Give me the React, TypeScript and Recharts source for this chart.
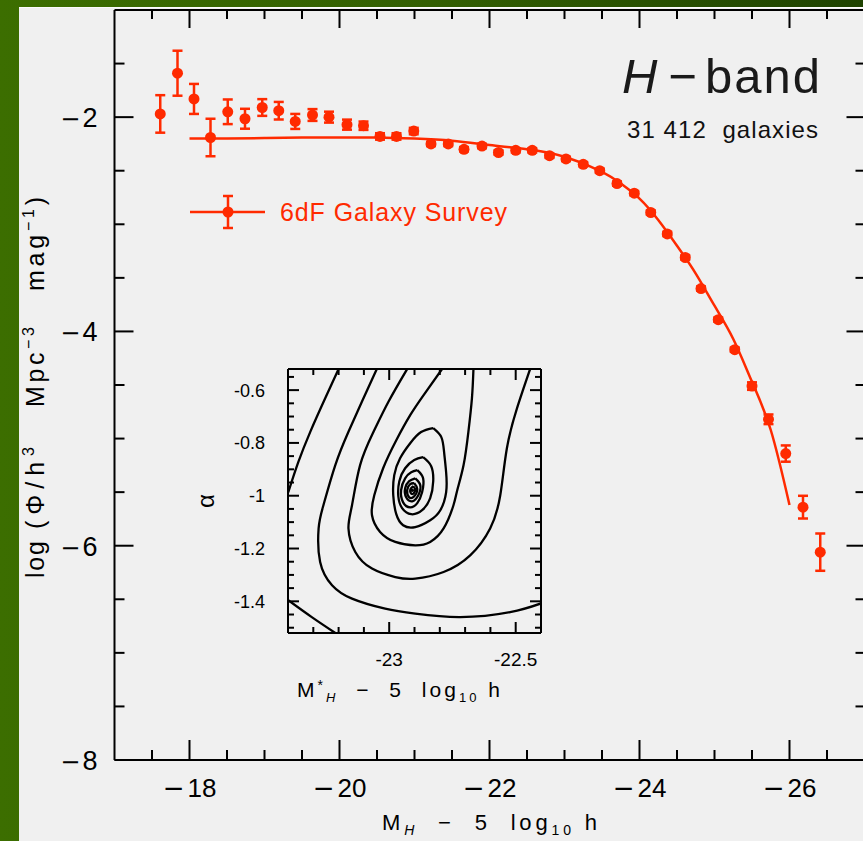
import React from 'react';
import { ComposedChart, Line, Scatter, XAxis, YAxis, ErrorBar } from 'recharts';

const RED = '#ff2a00';
const FONT = '"Liberation Sans", Arial, Helvetica, sans-serif';

// ---- main luminosity function (6dF, H band) ----
const lfMag = [-17.61, -17.84, -18.06, -18.28, -18.51, -18.74, -18.97, -19.19, -19.41, -19.64, -19.86, -20.1, -20.32, -20.54, -20.76, -20.99, -21.22, -21.45, -21.66, -21.9, -22.12, -22.35, -22.57, -22.8, -23.02, -23.25, -23.47, -23.7, -23.93, -24.15, -24.37, -24.61, -24.82, -25.05, -25.27, -25.5, -25.72, -25.95, -26.18, -26.41];
const lfLogPhi = [-1.97, -1.59, -1.83, -2.19, -1.95, -2.015, -1.91, -1.94, -2.04, -1.98, -2.0, -2.07, -2.08, -2.18, -2.18, -2.13, -2.25, -2.25, -2.3, -2.27, -2.33, -2.31, -2.31, -2.36, -2.39, -2.44, -2.5, -2.62, -2.71, -2.89, -3.09, -3.31, -3.6, -3.89, -4.17, -4.51, -4.82, -5.14, -5.64, -6.06];
const lfErr = [0.175, 0.21, 0.14, 0.175, 0.115, 0.093, 0.078, 0.082, 0.07, 0.055, 0.051, 0.047, 0.039, 0.03, 0.03, 0.03, 0.02, 0.02, 0.02, 0.02, 0.02, 0.02, 0.02, 0.02, 0.02, 0.02, 0.02, 0.02, 0.02, 0.02, 0.02, 0.02, 0.02, 0.02, 0.02, 0.035, 0.045, 0.076, 0.106, 0.174];

// ---- Schechter fit ----
const fitMag = [-18.0, -18.5, -19.0, -19.5, -20.0, -20.5, -21.0, -21.5, -22.0, -22.5, -23.0, -23.5, -23.75, -24.0, -24.25, -24.5, -24.75, -25.0, -25.25, -25.5, -25.75, -26.0];
const fitLogPhi = [-2.2, -2.2, -2.195, -2.19, -2.19, -2.19, -2.2, -2.22, -2.26, -2.3, -2.37, -2.51, -2.62, -2.76, -2.96, -3.2, -3.46, -3.76, -4.07, -4.47, -4.92, -5.62];

// ---- main axes ticks ----
const xTicks = [-17.5, -18, -18.5, -19, -19.5, -20, -20.5, -21, -21.5, -22, -22.5, -23, -23.5, -24, -24.5, -25, -25.5, -26, -26.5];
const xMajor = [-18, -20, -22, -24, -26];
const xMajorLabels = ['−18', '−20', '−22', '−24', '−26'];
const yTicks = [-8, -7.5, -7, -6.5, -6, -5.5, -5, -4.5, -4, -3.5, -3, -2.5, -2, -1.5];
const yMajor = [-8, -6, -4, -2];
const yMajorLabels = ['−8', '−6', '−4', '−2'];

// ---- inset axes ticks ----
const insetXTicks = [-23.3, -23.2, -23.1, -23, -22.9, -22.8, -22.7, -22.6, -22.5];
const insetXMajor = [-23, -22.5];
const insetXLabels = ['-23', '-22.5'];
const insetYTicks = [-1.5, -1.45, -1.4, -1.35, -1.3, -1.25, -1.2, -1.15, -1.1, -1.05, -1, -0.95, -0.9, -0.85, -0.8, -0.75, -0.7, -0.65, -0.6, -0.55];
const insetYMajor = [-1.4, -1.2, -1, -0.8, -0.6];
const insetYLabels = ['-1.4', '-1.2', '-1', '-0.8', '-0.6'];

// ---- inset likelihood contours: [M*, alpha] ----
const contourL0 = [[-23.399, -1.396], [-23.306, -1.46], [-23.213, -1.52]];
const contourL1 = [[-23.2, -0.52], [-23.253, -0.631], [-23.312, -0.758], [-23.359, -0.872], [-23.399, -0.987]];
const contourL2 = [[-23.049, -0.52], [-23.108, -0.644], [-23.161, -0.758], [-23.213, -0.884], [-23.26, -1.036], [-23.279, -1.124], [-23.273, -1.251], [-23.226, -1.339], [-23.147, -1.39], [-23.016, -1.428], [-22.897, -1.447], [-22.719, -1.46], [-22.522, -1.441], [-22.4, -1.408]];
const contourL3 = [[-22.929, -0.52], [-23.003, -0.644], [-23.062, -0.758], [-23.115, -0.884], [-23.147, -1.036], [-23.161, -1.124], [-23.134, -1.213], [-23.068, -1.276], [-22.976, -1.308], [-22.897, -1.314], [-22.785, -1.289], [-22.68, -1.226], [-22.601, -1.124], [-22.561, -0.998], [-22.535, -0.821], [-22.495, -0.669], [-22.443, -0.52]];
const contourL4 = [[-22.791, -0.52], [-22.864, -0.619], [-22.917, -0.695], [-22.972, -0.79], [-23.024, -0.896], [-23.059, -0.998], [-23.068, -1.074], [-23.036, -1.137], [-22.976, -1.175], [-22.897, -1.188], [-22.838, -1.175], [-22.785, -1.124], [-22.746, -1.036], [-22.731, -0.979], [-22.706, -0.884], [-22.687, -0.758], [-22.673, -0.631], [-22.667, -0.52]];
const loop1 = [[-22.826, -0.744], [-22.794, -0.778], [-22.783, -0.835], [-22.775, -0.911], [-22.775, -0.987], [-22.798, -1.055], [-22.838, -1.093], [-22.897, -1.119], [-22.945, -1.112], [-22.972, -1.07], [-22.984, -0.998], [-22.98, -0.922], [-22.957, -0.858], [-22.917, -0.801], [-22.874, -0.759], [-22.826, -0.744]];
const loop2 = [[-22.866, -0.854], [-22.834, -0.888], [-22.826, -0.945], [-22.838, -1.009], [-22.87, -1.055], [-22.913, -1.07], [-22.949, -1.047], [-22.964, -1.002], [-22.96, -0.945], [-22.937, -0.896], [-22.901, -0.865], [-22.866, -0.854]];
const loop3 = [[-22.889, -0.903], [-22.866, -0.934], [-22.87, -0.987], [-22.889, -1.028], [-22.917, -1.044], [-22.945, -1.025], [-22.953, -0.979], [-22.937, -0.934], [-22.913, -0.911], [-22.889, -0.903]];
const loop4 = [[-22.897, -0.934], [-22.877, -0.96], [-22.885, -0.998], [-22.909, -1.021], [-22.933, -1.006], [-22.937, -0.972], [-22.921, -0.945], [-22.897, -0.934]];
const loop5 = [[-22.901, -0.953], [-22.889, -0.975], [-22.901, -1.002], [-22.921, -1.006], [-22.929, -0.979], [-22.917, -0.956], [-22.901, -0.953]];
const loop6 = [[-22.905, -0.964], [-22.897, -0.979], [-22.909, -0.994], [-22.917, -0.979], [-22.905, -0.964]];
const bestFit = [[-22.909, -0.979]];

const contours = [contourL0, contourL1, contourL2, contourL3, contourL4, loop1, loop2, loop3, loop4, loop5, loop6];

const lfData = lfMag.map((m, i) => ({ x: m, y: lfLogPhi[i], e: lfErr[i] }));
const fitData = fitMag.map((m, i) => ({ x: m, y: fitLogPhi[i] }));
const toPts = (c: number[][]) => c.map(([m, a]) => ({ m, a }));

const idx = (arr: number[], v: number) => arr.findIndex((a) => Math.abs(a - v) < 1e-6);

function SignedText({ x, y, label, anchor, size, minusSize, gap }: any) {
  const neg = label.startsWith('−');
  return (
    <text x={x} y={y} textAnchor={anchor} fontFamily={FONT} fontSize={size} fill="#000">
      {neg && <tspan fontFamily="DejaVu Sans" fontSize={minusSize}>−</tspan>}
      <tspan dx={neg ? gap : 0}>{neg ? label.slice(1) : label}</tspan>
    </text>
  );
}

// main axis ticks
const MainBottomTick = (p: any) => {
  const i = idx(xMajor, p.payload.value);
  const major = i >= 0;
  return (
    <g>
      <line x1={p.x} x2={p.x} y1={p.y} y2={p.y - (major ? 20 : 10)} stroke="#000" strokeWidth={2} />
      {major && <SignedText x={p.x} y={p.y + 37} label={xMajorLabels[i]} anchor="middle" size={26} minusSize={26} gap={3} />}
    </g>
  );
};
const MainTopTick = (p: any) => {
  const major = idx(xMajor, p.payload.value) >= 0;
  return <line x1={p.x} x2={p.x} y1={p.y} y2={p.y + (major ? 18 : 9)} stroke="#000" strokeWidth={2} />;
};
const MainLeftTick = (p: any) => {
  const i = idx(yMajor, p.payload.value);
  const major = i >= 0;
  return (
    <g>
      <line x1={p.x} x2={p.x + (major ? 19 : 10)} y1={p.y} y2={p.y} stroke="#000" strokeWidth={2} />
      {major && <SignedText x={p.x - 17} y={p.y + 10} label={yMajorLabels[i]} anchor="end" size={27} minusSize={24} gap={2} />}
    </g>
  );
};
const MainRightTick = (p: any) => {
  const major = idx(yMajor, p.payload.value) >= 0;
  return <line x1={p.x} x2={p.x - (major ? 18 : 9)} y1={p.y} y2={p.y} stroke="#000" strokeWidth={2} />;
};

// inset ticks
const InsetBottomTick = (p: any) => {
  const i = idx(insetXMajor, p.payload.value);
  const major = i >= 0;
  return (
    <g>
      <line x1={p.x} x2={p.x} y1={p.y} y2={p.y - (major ? 11 : 6)} stroke="#000" strokeWidth={2} />
      {major && (
        <text x={p.x} y={p.y + 33} textAnchor="middle" fontFamily={FONT} fontSize={19} fill="#000">
          {insetXLabels[i]}
        </text>
      )}
    </g>
  );
};
const InsetTopTick = (p: any) => {
  const major = idx(insetXMajor, p.payload.value) >= 0;
  return <line x1={p.x} x2={p.x} y1={p.y} y2={p.y + (major ? 11 : 6)} stroke="#000" strokeWidth={2} />;
};
const InsetLeftTick = (p: any) => {
  const i = idx(insetYMajor, p.payload.value);
  const major = i >= 0;
  return (
    <g>
      <line x1={p.x} x2={p.x + (major ? 11 : 6)} y1={p.y} y2={p.y} stroke="#000" strokeWidth={2} />
      {major && (
        <text x={p.x - 23} y={p.y + 6.5} textAnchor="end" fontFamily={FONT} fontSize={18} fill="#000">
          {insetYLabels[i]}
        </text>
      )}
    </g>
  );
};
const InsetRightTick = (p: any) => {
  const major = idx(insetYMajor, p.payload.value) >= 0;
  return <line x1={p.x} x2={p.x - (major ? 11 : 6)} y1={p.y} y2={p.y} stroke="#000" strokeWidth={2} />;
};

const axisLine = { stroke: '#000', strokeWidth: 2 };

const MarkerDot = (p: any) => <circle cx={p.cx} cy={p.cy} r={5.5} fill={RED} />;
const CenterDot = (p: any) => <circle cx={p.cx} cy={p.cy} r={1.8} fill="#000" />;

export default function App() {
  return (
    <div
      style={{
        position: 'absolute',
        left: 0,
        top: 0,
        width: 863,
        height: 841,
        overflow: 'hidden',
        background: 'linear-gradient(90deg, #3c6e00 0%, #335f02 50%, #1f4300 100%)',
      }}
    >
      <div
        style={{
          position: 'absolute',
          left: 19,
          top: 7,
          right: 0,
          bottom: 0,
          background: '#f0f0f0',
          borderTop: '1px solid #fbfbfb',
        }}
      />
      {/* main chart */}
      <div style={{ position: 'absolute', left: 0, top: 0 }}>
        <ComposedChart width={880} height={841} margin={{ top: 9, right: 14.5, bottom: 20, left: 54.5 }}>
          <XAxis
            xAxisId="b"
            dataKey="x"
            type="number"
            orientation="bottom"
            domain={[-27, -17]}
            reversed
            allowDataOverflow
            ticks={xTicks}
            interval={0}
            height={61}
            tickLine={false}
            tickSize={0}
            tickMargin={0}
            axisLine={axisLine}
            tick={MainBottomTick}
          />
          <XAxis
            xAxisId="t"
            dataKey="x"
            type="number"
            orientation="top"
            domain={[-27, -17]}
            reversed
            allowDataOverflow
            ticks={xTicks}
            interval={0}
            height={1}
            tickLine={false}
            tickSize={0}
            tickMargin={0}
            axisLine={axisLine}
            tick={MainTopTick}
          />
          <YAxis
            yAxisId="l"
            dataKey="y"
            type="number"
            orientation="left"
            domain={[-8, -1]}
            allowDataOverflow
            ticks={yTicks}
            interval={0}
            width={60}
            tickLine={false}
            tickSize={0}
            tickMargin={0}
            axisLine={axisLine}
            tick={MainLeftTick}
          />
          <YAxis
            yAxisId="r"
            type="number"
            orientation="right"
            domain={[-8, -1]}
            allowDataOverflow
            ticks={yTicks}
            interval={0}
            width={1}
            tickLine={false}
            tickSize={0}
            tickMargin={0}
            axisLine={axisLine}
            tick={MainRightTick}
          />
          <Line
            xAxisId="b"
            yAxisId="l"
            data={fitData}
            dataKey="y"
            type="natural"
            stroke={RED}
            strokeWidth={2.5}
            dot={false}
            isAnimationActive={false}
          />
          <Scatter xAxisId="b" yAxisId="l" data={lfData} dataKey="y" fill={RED} shape={MarkerDot} isAnimationActive={false}>
            <ErrorBar dataKey="e" direction="y" width={5} stroke={RED} strokeWidth={2.5} isAnimationActive={false} />
          </Scatter>
        </ComposedChart>
      </div>

      {/* inset chart */}
      <div style={{ position: 'absolute', left: 190, top: 355 }}>
        <ComposedChart width={360} height={360} margin={{ top: 13, right: 8, bottom: 21, left: 38 }}>
          <XAxis
            xAxisId="b"
            dataKey="m"
            type="number"
            orientation="bottom"
            domain={[-23.4, -22.4]}
            allowDataOverflow
            ticks={insetXTicks}
            interval={0}
            height={61}
            tickLine={false}
            tickSize={0}
            tickMargin={0}
            axisLine={axisLine}
            tick={InsetBottomTick}
          />
          <XAxis
            xAxisId="t"
            dataKey="m"
            type="number"
            orientation="top"
            domain={[-23.4, -22.4]}
            allowDataOverflow
            ticks={insetXTicks}
            interval={0}
            height={1}
            tickLine={false}
            tickSize={0}
            tickMargin={0}
            axisLine={axisLine}
            tick={InsetTopTick}
          />
          <YAxis
            yAxisId="l"
            dataKey="a"
            type="number"
            orientation="left"
            domain={[-1.52, -0.52]}
            allowDataOverflow
            ticks={insetYTicks}
            interval={0}
            width={60}
            tickLine={false}
            tickSize={0}
            tickMargin={0}
            axisLine={axisLine}
            tick={InsetLeftTick}
          />
          <YAxis
            yAxisId="r"
            type="number"
            orientation="right"
            domain={[-1.52, -0.52]}
            allowDataOverflow
            ticks={insetYTicks}
            interval={0}
            width={1}
            tickLine={false}
            tickSize={0}
            tickMargin={0}
            axisLine={axisLine}
            tick={InsetRightTick}
          />
          {contours.map((c, i) => (
            <Line
              key={i}
              xAxisId="b"
              yAxisId="l"
              data={toPts(c)}
              dataKey="a"
              type="natural"
              stroke="#000"
              strokeWidth={2.3}
              dot={false}
              isAnimationActive={false}
            />
          ))}
          <Scatter xAxisId="b" yAxisId="l" data={toPts(bestFit)} dataKey="a" shape={CenterDot} isAnimationActive={false} />
        </ComposedChart>
      </div>

      {/* text overlay */}
      <svg width={863} height={841} style={{ position: 'absolute', left: 0, top: 0, pointerEvents: 'none' }}>
        {/* title */}
        <text x={622} y={93} fontFamily={FONT} fontSize={49} fill="#1a1a1a">
          <tspan fontStyle="italic">H</tspan>
          <tspan dx={11}>−</tspan>
          <tspan dx={8} style={{ letterSpacing: 2 }}>band</tspan>
        </text>
        <text x={627} y={138} fontFamily={FONT} fontSize={24} fill="#111" textLength={191} lengthAdjust="spacing" style={{ whiteSpace: 'pre' }}>
          31 412  galaxies
        </text>

        {/* legend */}
        <line x1={190} x2={265} y1={212} y2={212} stroke={RED} strokeWidth={2.5} />
        <line x1={228} x2={228} y1={196} y2={228} stroke={RED} strokeWidth={2.5} />
        <line x1={223} x2={233} y1={196} y2={196} stroke={RED} strokeWidth={2.5} />
        <line x1={223} x2={233} y1={228} y2={228} stroke={RED} strokeWidth={2.5} />
        <circle cx={228} cy={212} r={5.5} fill={RED} />
        <text x={280} y={221} fontFamily={FONT} fontSize={25} fill={RED} textLength={227} lengthAdjust="spacing">
          6dF Galaxy Survey
        </text>

        {/* main y label (rotated) */}
        <g transform="rotate(-90)" fontFamily={FONT} fontSize={25} fill="#000">
          <text x={-578} y={44} textLength={37} lengthAdjust="spacing">log</text>
          <text x={-529} y={44} textLength={82} lengthAdjust="spacing">
            (Φ/h<tspan dy={-10} fontSize={16}>3</tspan>
          </text>
          <text x={-407} y={44} textLength={80} lengthAdjust="spacing">
            Mpc<tspan dy={-10} fontSize={16}>−3</tspan>
          </text>
          <text x={-291} y={44} textLength={94} lengthAdjust="spacing">
            mag<tspan dy={-10} fontSize={16}>−1</tspan>
            <tspan dy={10}>)</tspan>
          </text>
        </g>

        {/* main x label */}
        <text x={382} y={830} fontFamily={FONT} fontSize={22} fill="#000" textLength={215} lengthAdjust="spacing" style={{ whiteSpace: 'pre' }}>
          M<tspan dy={5} fontSize={14} fontStyle="italic">H</tspan>
          <tspan dy={-5}>  −  5  log</tspan>
          <tspan dy={5} fontSize={14}>10</tspan>
          <tspan dy={-5}> h</tspan>
        </text>

        {/* inset labels */}
        <text transform="rotate(-90)" x={-501} y={214} textAnchor="middle" fontFamily={FONT} fontSize={24} fill="#000">
          α
        </text>
        <text x={297} y={697} fontFamily={FONT} fontSize={21} fill="#000" textLength={203} lengthAdjust="spacing" style={{ whiteSpace: 'pre' }}>
          M<tspan dy={-7} fontSize={14}>*</tspan>
          <tspan dy={12} fontSize={13} fontStyle="italic">H</tspan>
          <tspan dy={-5}>  −  5  log</tspan>
          <tspan dy={5} fontSize={13}>10</tspan>
          <tspan dy={-5}> h</tspan>
        </text>
      </svg>
    </div>
  );
}
